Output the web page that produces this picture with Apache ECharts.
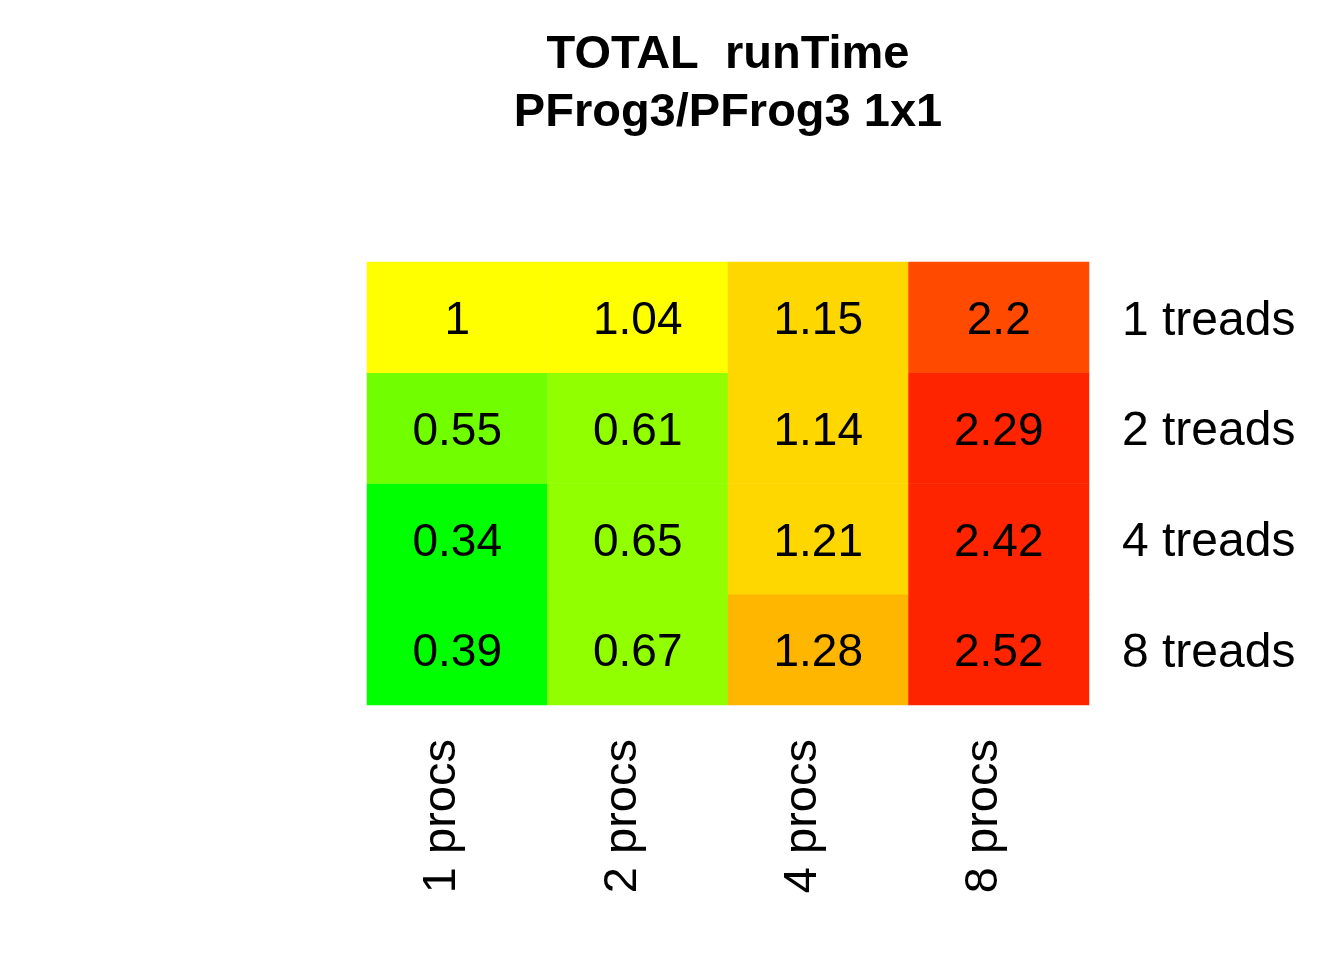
<!DOCTYPE html>
<html>
<head>
<meta charset="utf-8">
<script src="https://cdn.jsdelivr.net/npm/echarts@6/dist/echarts.min.js"></script>
<style>
  html, body { margin: 0; padding: 0; background: #fff; }
  #chart { width: 1344px; height: 960px; }
</style>
</head>
<body>
<div id="chart"></div>
<script>
// Categories
const procs = ['1 procs', '2 procs', '4 procs', '8 procs'];
const treads = ['8 treads', '4 treads', '2 treads', '1 treads']; // bottom to top

// Values per row of treads, columns follow procs
const row1 = [1, 1.04, 1.15, 2.2];
const row2 = [0.55, 0.61, 1.14, 2.29];
const row4 = [0.34, 0.65, 1.21, 2.42];
const row8 = [0.39, 0.67, 1.28, 2.52];

// Colour bins
const binEdges = [0, 0.5, 0.6, 0.9, 1.1, 1.25, 1.5, 2.25, 3];
const binColors = ['#00FF00', '#71FF00', '#92FF00', '#FFFF00', '#FFD700', '#FFB600', '#FF4A00', '#FF2400'];

const rows = { '1 treads': row1, '2 treads': row2, '4 treads': row4, '8 treads': row8 };
const data = [];
treads.forEach((t, yi) => {
    rows[t].forEach((v, xi) => data.push([xi, yi, v]));
});

const pieces = binColors.map((c, i) => ({ gte: binEdges[i], lt: binEdges[i + 1], color: c }));

const FONT = 'Liberation Sans, Arial, Helvetica, sans-serif';

const chart = echarts.init(document.getElementById('chart'), null, { renderer: 'canvas' });
chart.setOption({
    backgroundColor: '#ffffff',
    animation: false,
    title: {
        text: 'TOTAL  runTime\nPFrog3/PFrog3 1x1',
        left: 723,
        textAlign: 'center',
        top: 21,
        textStyle: { fontFamily: FONT, fontWeight: 'bold', fontSize: 47, color: '#000', lineHeight: 58 }
    },
    grid: { left: 367, right: 255, top: 262, bottom: 255 },
    xAxis: {
        type: 'category',
        data: procs,
        axisLine: { show: false },
        axisTick: { show: false },
        splitLine: { show: false },
        axisLabel: {
            rotate: 90, margin: 34, fontFamily: FONT, fontSize: 47, color: '#000',
            verticalAlign: 'bottom', lineHeight: 30
        }
    },
    yAxis: {
        type: 'category',
        data: treads,
        position: 'right',
        axisLine: { show: false },
        axisTick: { show: false },
        splitLine: { show: false },
        axisLabel: {
            margin: 33, fontFamily: FONT, fontSize: 48, color: '#000',
            verticalAlign: 'top', lineHeight: 8
        }
    },
    visualMap: {
        type: 'piecewise',
        show: false,
        dimension: 2,
        pieces: pieces
    },
    series: [{
        type: 'heatmap',
        data: data,
        label: {
            show: true,
            fontFamily: FONT,
            fontSize: 46,
            color: '#000',
            offset: [0, 4],
            formatter: p => String(p.value[2])
        },
        itemStyle: { borderWidth: 0 },
        emphasis: { disabled: true }
    }]
});
</script>
</body>
</html>
